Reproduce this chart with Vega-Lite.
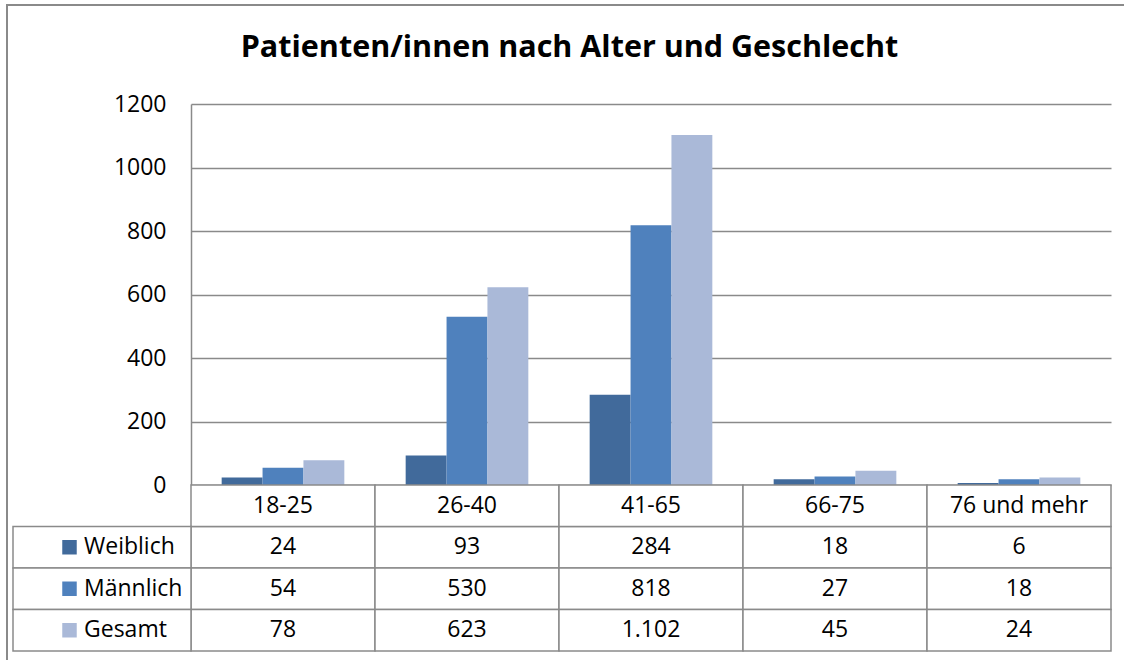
{
  "$schema": "https://vega.github.io/schema/vega-lite/v6.json",
  "padding": {"left": 7, "top": 5, "right": 0, "bottom": 0},
  "autosize": {"type": "pad"},
  "background": "white",
  "config": {
    "font": "Open Sans",
    "locale": {"number": {"decimal": ",", "thousands": ".", "grouping": [3], "currency": ["", " €"]}},
    "text": {"font": "Open Sans", "fontSize": 23, "color": "black"}
  },
  "datasets": {
    "patienten": [
      {"Alter": "18-25", "Geschlecht": "Weiblich", "Anzahl": 24},
      {"Alter": "18-25", "Geschlecht": "Männlich", "Anzahl": 54},
      {"Alter": "18-25", "Geschlecht": "Gesamt", "Anzahl": 78},
      {"Alter": "26-40", "Geschlecht": "Weiblich", "Anzahl": 93},
      {"Alter": "26-40", "Geschlecht": "Männlich", "Anzahl": 530},
      {"Alter": "26-40", "Geschlecht": "Gesamt", "Anzahl": 623},
      {"Alter": "41-65", "Geschlecht": "Weiblich", "Anzahl": 284},
      {"Alter": "41-65", "Geschlecht": "Männlich", "Anzahl": 818},
      {"Alter": "41-65", "Geschlecht": "Gesamt", "Anzahl": 1102},
      {"Alter": "66-75", "Geschlecht": "Weiblich", "Anzahl": 18},
      {"Alter": "66-75", "Geschlecht": "Männlich", "Anzahl": 27},
      {"Alter": "66-75", "Geschlecht": "Gesamt", "Anzahl": 45},
      {"Alter": "76 und mehr", "Geschlecht": "Weiblich", "Anzahl": 6},
      {"Alter": "76 und mehr", "Geschlecht": "Männlich", "Anzahl": 18},
      {"Alter": "76 und mehr", "Geschlecht": "Gesamt", "Anzahl": 24}
    ]
  },
  "width": 1117,
  "height": 655,
  "view": {"stroke": "#8a8a8a", "strokeWidth": 2, "fill": "white", "strokeDash": [1117, 1772, 660]},
  "title": {
    "text": "Patienten/innen nach Alter und Geschlecht",
    "orient": "top",
    "anchor": "middle",
    "font": "Open Sans",
    "fontSize": 30.5,
    "fontWeight": "bold",
    "color": "black",
    "baseline": "alphabetic",
    "offset": -82,
    "dx": 4
  },
  "data": {"name": "patienten"},
  "layer": [
    {
      "mark": {"type": "bar"},
      "encoding": {
        "x": {
          "field": "Alter",
          "type": "nominal",
          "sort": ["18-25", "26-40", "41-65", "66-75", "76 und mehr"],
          "scale": {"range": [184, 1104], "paddingInner": 0, "paddingOuter": 0},
          "axis": null
        },
        "xOffset": {
          "field": "Geschlecht",
          "type": "nominal",
          "sort": ["Weiblich", "Männlich", "Gesamt"],
          "scale": {"paddingInner": 0, "paddingOuter": 0.75}
        },
        "y": {
          "field": "Anzahl",
          "type": "quantitative",
          "scale": {"domain": [0, 1200], "nice": false, "range": [480, 99]},
          "axis": {
            "values": [0, 200, 400, 600, 800, 1000, 1200],
            "format": "d",
            "title": null,
            "offset": -184,
            "grid": true,
            "gridColor": "#8a8a8a",
            "gridWidth": 1.5,
            "domain": true,
            "domainColor": "#8a8a8a",
            "domainWidth": 1.5,
            "ticks": false,
            "labelFont": "Open Sans",
            "labelFontSize": 23,
            "labelColor": "black",
            "labelPadding": 25
          }
        },
        "color": {
          "field": "Geschlecht",
          "type": "nominal",
          "scale": {"domain": ["Weiblich", "Männlich", "Gesamt"], "range": ["#416a9b", "#4f81bd", "#aab9d8"]},
          "legend": null
        }
      }
    },
    {
      "mark": {"type": "rect", "fill": "white", "stroke": "#8a8a8a", "strokeWidth": 1.5},
      "encoding": {
        "x": {
          "field": "Alter",
          "type": "nominal",
          "sort": ["18-25", "26-40", "41-65", "66-75", "76 und mehr"],
          "scale": {"range": [184, 1104], "paddingInner": 0, "paddingOuter": 0},
          "axis": null
        },
        "y": {
          "field": "Geschlecht",
          "type": "nominal",
          "scale": {"domain": ["Alter", "Weiblich", "Männlich", "Gesamt"], "range": [480, 646], "paddingInner": 0, "paddingOuter": 0},
          "axis": null
        }
      }
    },
    {
      "mark": {"type": "text", "align": "center", "baseline": "middle"},
      "encoding": {
        "x": {
          "field": "Alter",
          "type": "nominal",
          "sort": ["18-25", "26-40", "41-65", "66-75", "76 und mehr"],
          "scale": {"range": [184, 1104], "paddingInner": 0, "paddingOuter": 0},
          "axis": null
        },
        "y": {
          "field": "Geschlecht",
          "type": "nominal",
          "scale": {"domain": ["Alter", "Weiblich", "Männlich", "Gesamt"], "range": [480, 646], "paddingInner": 0, "paddingOuter": 0},
          "axis": null
        },
        "text": {"field": "Anzahl", "type": "quantitative", "format": ",d"}
      }
    },
    {
      "transform": [{"filter": "datum.Geschlecht === 'Gesamt'"}],
      "mark": {"type": "rect", "fill": "white", "stroke": "#8a8a8a", "strokeWidth": 1.5},
      "encoding": {
        "x": {
          "field": "Alter",
          "type": "nominal",
          "sort": ["18-25", "26-40", "41-65", "66-75", "76 und mehr"],
          "scale": {"range": [184, 1104], "paddingInner": 0, "paddingOuter": 0},
          "axis": null
        },
        "y": {
          "datum": "Alter",
          "type": "nominal",
          "scale": {"domain": ["Alter", "Weiblich", "Männlich", "Gesamt"], "range": [480, 646], "paddingInner": 0, "paddingOuter": 0},
          "axis": null
        }
      }
    },
    {
      "transform": [{"filter": "datum.Geschlecht === 'Gesamt'"}],
      "mark": {"type": "text", "align": "center", "baseline": "middle"},
      "encoding": {
        "x": {
          "field": "Alter",
          "type": "nominal",
          "sort": ["18-25", "26-40", "41-65", "66-75", "76 und mehr"],
          "scale": {"range": [184, 1104], "paddingInner": 0, "paddingOuter": 0},
          "axis": null
        },
        "y": {
          "datum": "Alter",
          "type": "nominal",
          "scale": {"domain": ["Alter", "Weiblich", "Männlich", "Gesamt"], "range": [480, 646], "paddingInner": 0, "paddingOuter": 0},
          "axis": null
        },
        "text": {"field": "Alter", "type": "nominal"}
      }
    },
    {
      "transform": [{"filter": "datum.Alter === '18-25'"}],
      "mark": {"type": "rect", "fill": "white", "stroke": "#8a8a8a", "strokeWidth": 1.5},
      "encoding": {
        "x": {
          "datum": "Legende",
          "type": "nominal",
          "scale": {"domain": ["Legende"], "range": [6, 184], "paddingInner": 0, "paddingOuter": 0},
          "axis": null
        },
        "y": {
          "field": "Geschlecht",
          "type": "nominal",
          "scale": {"domain": ["Alter", "Weiblich", "Männlich", "Gesamt"], "range": [480, 646], "paddingInner": 0, "paddingOuter": 0},
          "axis": null
        }
      }
    },
    {
      "transform": [{"filter": "datum.Alter === '18-25'"}],
      "mark": {"type": "point", "shape": "square", "filled": true, "size": 210, "opacity": 1, "xOffset": -32.5},
      "encoding": {
        "x": {
          "datum": "Legende",
          "type": "nominal",
          "scale": {"domain": ["Legende"], "range": [6, 184], "paddingInner": 0, "paddingOuter": 0},
          "axis": null
        },
        "y": {
          "field": "Geschlecht",
          "type": "nominal",
          "scale": {"domain": ["Alter", "Weiblich", "Männlich", "Gesamt"], "range": [480, 646], "paddingInner": 0, "paddingOuter": 0},
          "axis": null
        },
        "color": {
          "field": "Geschlecht",
          "type": "nominal",
          "scale": {"domain": ["Weiblich", "Männlich", "Gesamt"], "range": ["#416a9b", "#4f81bd", "#aab9d8"]},
          "legend": null
        }
      }
    },
    {
      "transform": [{"filter": "datum.Alter === '18-25'"}],
      "mark": {"type": "text", "align": "left", "baseline": "middle", "dx": -18},
      "encoding": {
        "x": {
          "datum": "Legende",
          "type": "nominal",
          "scale": {"domain": ["Legende"], "range": [6, 184], "paddingInner": 0, "paddingOuter": 0},
          "axis": null
        },
        "y": {
          "field": "Geschlecht",
          "type": "nominal",
          "scale": {"domain": ["Alter", "Weiblich", "Männlich", "Gesamt"], "range": [480, 646], "paddingInner": 0, "paddingOuter": 0},
          "axis": null
        },
        "text": {"field": "Geschlecht", "type": "nominal"}
      }
    }
  ],
  "resolve": {"scale": {"x": "independent", "y": "independent"}}
}
